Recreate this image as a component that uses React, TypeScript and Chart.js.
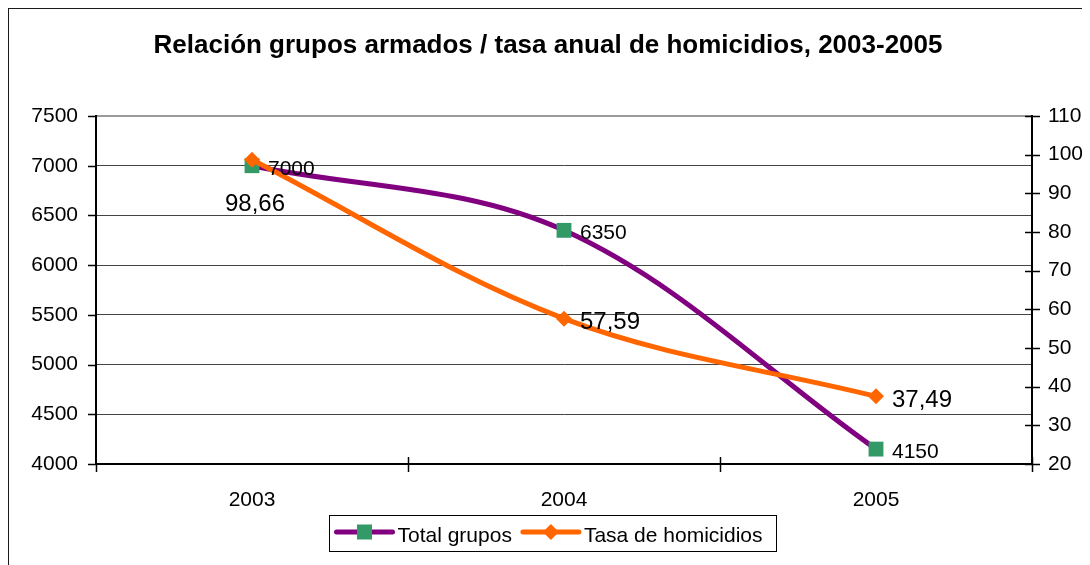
import React, { useEffect, useRef } from 'react';
import { Chart, registerables } from 'chart.js';

Chart.register(...registerables);

const TITLE = 'Relación grupos armados / tasa anual de homicidios, 2003-2005';
const years = ['2003', '2004', '2005'];
const totalGrupos = [7000, 6350, 4150];
const tasaHomicidios = [98.66, 57.59, 37.49];
const seriesNames = ['Total grupos', 'Tasa de homicidios'];
const leftRange = [4000, 7500, 500];
const rightRange = [20, 110, 10];

const FONT = "'Liberation Sans', Arial, Helvetica, sans-serif";
const PURPLE = '#800080';
const GREEN = '#339966';
const ORANGE = '#FF6600';

const CANVAS_W = 1082;
const CANVAS_H = 557;

function fmtComma(v: number) {
  return v.toFixed(2).replace('.', ',');
}

function drawSquare(ctx: CanvasRenderingContext2D, x: number, y: number, side: number, color: string) {
  ctx.fillStyle = color;
  ctx.fillRect(x - side / 2, y - side / 2, side, side);
}

function drawDiamond(ctx: CanvasRenderingContext2D, x: number, y: number, r: number, color: string) {
  ctx.fillStyle = color;
  ctx.beginPath();
  ctx.moveTo(x - r, y);
  ctx.lineTo(x, y - r);
  ctx.lineTo(x + r, y);
  ctx.lineTo(x, y + r);
  ctx.closePath();
  ctx.fill();
}

const decorPlugin = {
  id: 'decor',
  beforeDraw(chart: any) {
    const ctx: CanvasRenderingContext2D = chart.ctx;
    ctx.save();
    ctx.fillStyle = '#ffffff';
    ctx.fillRect(0, 0, chart.width, chart.height);
    ctx.strokeStyle = '#1a1a1a';
    ctx.lineWidth = 1;
    ctx.strokeRect(0.5, 0.5, chart.width - 3, chart.height + 20);
    ctx.fillStyle = '#000';
    ctx.font = `bold 26px ${FONT}`;
    ctx.textAlign = 'center';
    ctx.textBaseline = 'middle';
    ctx.fillText(TITLE, 540, 38);
    ctx.restore();
  },
  afterDraw(chart: any) {
    const ctx: CanvasRenderingContext2D = chart.ctx;
    const { left, right, bottom } = chart.chartArea;
    const xs = chart.scales.x;
    const ys = chart.scales.y;
    const y1 = chart.scales.y1;
    ctx.save();
    ctx.strokeStyle = '#000';
    ctx.lineWidth = 1.5;
    const seg = (x0: number, y0: number, x1: number, yy1: number) => {
      ctx.beginPath();
      ctx.moveTo(x0, y0);
      ctx.lineTo(x1, yy1);
      ctx.stroke();
    };
    ys.ticks.forEach((t: any) => {
      const py = Math.round(ys.getPixelForValue(t.value)) + 0.5;
      seg(left - 8, py, left, py);
    });
    y1.ticks.forEach((t: any) => {
      const py = Math.round(y1.getPixelForValue(t.value)) + 0.5;
      seg(right - 7, py, right + 8, py);
    });
    for (let i = 0; i <= years.length; i++) {
      let px: number;
      if (i === 0) px = left;
      else if (i === years.length) px = right;
      else px = (xs.getPixelForValue(i - 1) + xs.getPixelForValue(i)) / 2;
      px = Math.round(px) + 0.5;
      seg(px, bottom - (i === 0 ? 0 : 7), px, bottom + 8);
    }

    // data labels
    ctx.fillStyle = '#000';
    ctx.textBaseline = 'middle';
    const metaG = chart.getDatasetMeta(0);
    ctx.font = `21px ${FONT}`;
    ctx.textAlign = 'left';
    metaG.data.forEach((pt: any, i: number) => {
      ctx.fillText(String(totalGrupos[i]), pt.x + 16, pt.y + 3);
    });
    const metaT = chart.getDatasetMeta(1);
    ctx.font = `24px ${FONT}`;
    metaT.data.forEach((pt: any, i: number) => {
      const txt = fmtComma(tasaHomicidios[i]);
      if (i === 0) {
        ctx.textAlign = 'center';
        ctx.fillText(txt, pt.x + 3, pt.y + 45);
      } else {
        ctx.textAlign = 'left';
        ctx.fillText(txt, pt.x + 16, pt.y + 4);
      }
    });

    // legend
    ctx.font = `21px ${FONT}`;
    const w0 = ctx.measureText(seriesNames[0]).width;
    const w1 = ctx.measureText(seriesNames[1]).width;
    const sample = 56;
    const padL = 7;
    const padR = 14;
    const totalW = padL + sample + 5 + w0 + 11 + sample + 5 + w1 + padR;
    const cx = 544.5;
    const cy = 525;
    const bx = Math.round(cx - totalW / 2) + 0.5;
    const bh = 36;
    ctx.strokeStyle = '#000';
    ctx.lineWidth = 1;
    ctx.strokeRect(bx, Math.round(cy - bh / 2) + 0.5, Math.round(totalW), bh);
    const ly = cy - 1;
    let x = bx + padL;
    ctx.lineWidth = 5;
    ctx.lineCap = 'round';
    ctx.strokeStyle = PURPLE;
    seg(x, ly, x + sample, ly);
    drawSquare(ctx, x + sample / 2, ly, 15, GREEN);
    x += sample + 5;
    ctx.fillStyle = '#000';
    ctx.textAlign = 'left';
    ctx.fillText(seriesNames[0], x, cy + 3);
    x += w0 + 11;
    ctx.strokeStyle = ORANGE;
    seg(x, ly, x + sample, ly);
    drawDiamond(ctx, x + sample / 2, ly, 8, ORANGE);
    x += sample + 5;
    ctx.fillStyle = '#000';
    ctx.fillText(seriesNames[1], x, cy + 3);
    ctx.restore();
  },
};

export default function App() {
  const ref = useRef<HTMLCanvasElement | null>(null);
  useEffect(() => {
    if (!ref.current) return;
    const tickFont = { family: FONT, size: 21 };
    const plain = (v: any) => String(v);
    const chart = new Chart(ref.current, {
      type: 'line',
      data: {
        labels: years,
        datasets: [
          {
            label: seriesNames[0],
            data: totalGrupos,
            yAxisID: 'y',
            borderColor: PURPLE,
            backgroundColor: GREEN,
            borderWidth: 5,
            tension: 0.35,
            pointStyle: 'rect',
            pointRadius: 10.5,
            pointBackgroundColor: GREEN,
            pointBorderColor: GREEN,
            pointBorderWidth: 0,
            order: 1,
            clip: false as any,
          },
          {
            label: seriesNames[1],
            data: tasaHomicidios,
            yAxisID: 'y1',
            borderColor: ORANGE,
            backgroundColor: ORANGE,
            borderWidth: 5,
            tension: 0.35,
            pointStyle: 'rectRot',
            pointRadius: 8,
            pointBackgroundColor: ORANGE,
            pointBorderColor: ORANGE,
            pointBorderWidth: 0,
            order: 0,
            clip: false as any,
          },
        ],
      },
      options: {
        responsive: false,
        animation: false,
        layout: { padding: { top: 108, left: 0, right: 0, bottom: 0 } },
        plugins: {
          legend: { display: false },
          title: { display: false },
          tooltip: { enabled: false },
        },
        scales: {
          x: {
            type: 'category',
            offset: true,
            grid: { drawOnChartArea: false, drawTicks: false, offset: true },
            border: { display: true, color: '#000', width: 2 },
            ticks: { font: tickFont, color: '#000', padding: 24, maxRotation: 0 },
            afterFit: (s: any) => {
              s.height = 101;
            },
          },
          y: {
            position: 'left',
            min: leftRange[0],
            max: leftRange[1],
            ticks: { stepSize: leftRange[2], font: tickFont, color: '#000', padding: 18, callback: plain },
            grid: {
              drawTicks: false,
              color: (c: any) => (c.tick && c.tick.value === leftRange[1] ? '#9a9a9a' : '#444444'),
              lineWidth: (c: any) => (c.tick && c.tick.value === leftRange[1] ? 2 : 1),
            },
            border: { color: '#000', width: 2 },
            afterFit: (s: any) => {
              s.width = 88;
            },
          },
          y1: {
            position: 'right',
            min: rightRange[0],
            max: rightRange[1],
            ticks: { stepSize: rightRange[2], font: tickFont, color: '#000', padding: 16, callback: plain },
            grid: { drawOnChartArea: false, drawTicks: false },
            border: { color: '#000', width: 2 },
            afterFit: (s: any) => {
              s.width = 58;
            },
          },
        },
      } as any,
      plugins: [decorPlugin],
    });
    return () => chart.destroy();
  }, []);
  return (
    <canvas
      ref={ref}
      width={CANVAS_W}
      height={CANVAS_H}
      style={{ display: 'block', width: CANVAS_W, height: CANVAS_H }}
    />
  );
}
